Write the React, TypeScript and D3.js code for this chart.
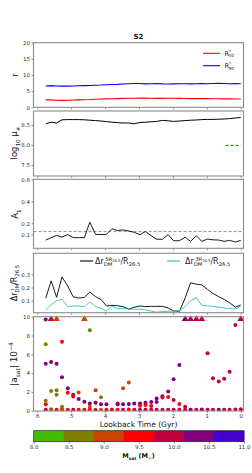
import { useEffect, useRef } from 'react';
import * as d3 from 'd3';

const W = 252;
const H = 473;

// snapshots (lookback time, Gyr)
const lookback = [5.75, 5.59, 5.43, 5.27, 5.10, 4.94, 4.78, 4.61, 4.45, 4.28, 4.12, 3.96, 3.80, 3.63, 3.47, 3.30, 3.14, 2.97,
  2.81, 2.64, 2.48, 2.31, 2.14, 1.98, 1.81, 1.64, 1.48, 1.31, 1.15, 0.98, 0.82, 0.65, 0.49, 0.33, 0.16, 0.00];

const r50 = [2.3, 2.3, 2.2, 2.15, 2.2, 2.25, 2.3, 2.35, 2.4, 2.5, 2.55, 2.6, 2.65, 2.7, 2.75, 2.78, 2.8, 2.85,
  2.85, 2.8, 2.75, 2.75, 2.8, 2.8, 2.75, 2.72, 2.7, 2.7, 2.68, 2.68, 2.66, 2.65, 2.62, 2.6, 2.58, 2.56];
const r90 = [6.6, 6.7, 6.6, 6.55, 6.55, 6.6, 6.65, 6.7, 6.75, 6.85, 6.9, 7.0, 7.05, 7.1, 7.2, 7.3, 7.35, 7.35,
  7.25, 7.3, 7.35, 7.25, 7.2, 7.25, 7.3, 7.3, 7.25, 7.3, 7.35, 7.3, 7.35, 7.4, 7.35, 7.3, 7.35, 7.3];

const logMu = [8.53, 8.57, 8.55, 8.63, 8.635, 8.635, 8.635, 8.63, 8.62, 8.61, 8.6, 8.585, 8.57, 8.56, 8.55, 8.55, 8.53, 8.565,
  8.57, 8.58, 8.59, 8.615, 8.605, 8.59, 8.6, 8.61, 8.62, 8.625, 8.635, 8.64, 8.64, 8.645, 8.65, 8.66, 8.675, 8.69];
const muRefTime = [0.45, 0.0];
const muRefValue = [7.99, 7.99];

const a1 = [0.048, 0.07, 0.09, 0.075, 0.097, 0.07, 0.07, 0.07, 0.21, 0.1, 0.098, 0.1, 0.15, 0.135, 0.14, 0.13, 0.118, 0.097,
  0.125, 0.088, 0.055, 0.055, 0.097, 0.042, 0.042, 0.073, 0.036, 0.088, 0.036, 0.057, 0.05, 0.048, 0.036, 0.045, 0.03, 0.045];
const a1Threshold = 0.125;

const dr5 = [0.118, 0.25, 0.126, 0.28, 0.21, 0.13, 0.12, 0.125, 0.166, 0.13, 0.11, 0.06, 0.065, 0.062, 0.055, 0.037, 0.05, 0.06,
  0.055, 0.057, 0.057, 0.057, 0.045, 0.022, 0.02, 0.12, 0.236, 0.225, 0.22, 0.185, 0.155, 0.13, 0.11, 0.085, 0.05, 0.068];
const dr3 = [0.03, 0.07, 0.1, 0.11, 0.055, 0.06, 0.06, 0.055, 0.09, 0.055, 0.04, 0.022, 0.058, 0.04, 0.04, 0.037, 0.035, 0.035,
  0.03, 0.02, 0.013, 0.018, 0.02, 0.02, 0.025, 0.055, 0.1, 0.123, 0.065, 0.06, 0.057, 0.05, 0.045, 0.04, 0.037, 0.06];

// satellites: snapshot index, |a_sat| (1e-4), log10 mass
const satSnap = [
  0, 0, 0, 0, 0, 0, 0,
  1, 1, 1, 1,
  2, 2, 2, 2,
  3, 3, 3, 3, 3,
  4, 4, 4,
  5, 5, 5,
  6, 6, 6,
  7, 7,
  8, 8, 8, 8,
  9, 9, 9,
  10, 10, 10,
  11, 11,
  12,
  13, 13, 13,
  14, 14, 14,
  15, 15, 15,
  16, 16,
  17, 17, 17,
  18, 18, 18,
  19, 19, 19,
  20, 20, 20,
  21, 21, 21,
  22, 22, 22,
  23, 23, 23,
  24, 24, 24,
  25, 25,
  26, 26,
  27,
  28, 28,
  29, 29,
  30, 30,
  31, 31,
  32, 32,
  33, 33,
  34, 34,
  35,
];
const satAcc = [
  7.06, 5.0, 1.07, 0.68, 9.7, 0.1, 0.05,
  5.18, 2.1, 0.15, 0.08,
  5.0, 2.17, 1.7, 0.1,
  7.34, 3.55, 0.43, 0.12, 0.06,
  2.38, 1.9, 0.1,
  1.7, 1.5, 0.1,
  1.95, 1.25, 0.1,
  0.96, 0.1,
  8.55, 0.78, 0.43, 0.1,
  2.17, 0.85, 0.08,
  1.42, 0.68, 0.1,
  0.68, 0.1,
  0.1,
  0.78, 0.68, 0.1,
  2.4, 0.68, 0.1,
  3.0, 0.72, 0.12,
  0.78, 0.1,
  0.78, 0.53, 0.1,
  0.85, 0.6, 0.1,
  0.92, 0.5, 0.1,
  1.3, 0.92, 0.1,
  1.55, 1.4, 0.1,
  2.05, 1.45, 0.1,
  3.34, 1.14, 0.1,
  4.86, 0.72, 0.1,
  0.43, 0.1,
  0.1, 0.08,
  0.1,
  0.12, 0.08,
  6.1, 0.1,
  3.45, 0.1,
  3.1, 0.1,
  3.4, 0.1,
  4.15, 0.1,
  9.12, 0.12,
  0.15,
];
const satMass = [
  8.6, 10.35, 8.6, 9.5, 10.35, 9.1, 9.9,
  10.35, 8.6, 8.6, 9.1,
  10.35, 8.6, 8.6, 9.5,
  9.5, 10.35, 8.6, 9.5, 9.1,
  10.35, 9.5, 9.5,
  10.35, 9.5, 9.9,
  9.1, 10.35, 9.5,
  10.35, 9.5,
  8.6, 10.35, 9.1, 9.5,
  9.1, 10.35, 9.9,
  8.6, 10.35, 9.1,
  10.35, 9.5,
  9.9,
  9.5, 10.35, 9.5,
  9.1, 10.35, 9.9,
  9.1, 10.35, 9.5,
  10.35, 9.9,
  10.35, 9.5, 9.9,
  10.35, 9.5, 9.9,
  10.35, 9.5, 9.9,
  10.35, 10.35, 9.9,
  10.35, 9.5, 9.9,
  10.35, 9.5, 9.9,
  10.35, 9.9, 9.9,
  10.35, 9.5, 9.9,
  9.9, 9.9,
  9.9, 10.35,
  9.9,
  9.9, 10.35,
  9.9, 9.9,
  9.9, 9.9,
  9.9, 10.35,
  9.9, 9.9,
  9.9, 9.9,
  9.9, 9.9,
  9.9,
];
// satellites above the plotted range (drawn as triangles at the top)
const capSnap = [1, 2, 7, 25, 26, 27, 28, 35];
const capMass = [9.9, 9.1, 9.1, 10.35, 9.9, 9.9, 9.9, 9.9];

const massColors = ['#44bb00', '#7f7f00', '#c84400', '#ff0000', '#c0003c', '#800080', '#4400cc'];
const massTicks = [8.0, 8.5, 9.0, 9.5, 10.0, 10.5, 11.0];
const timeTicks = [6, 5, 4, 3, 2, 1, 0];
const rTicks = [0, 5, 10, 15, 20];
const muTicks = [7.5, 8.0, 8.5];
const a1Ticks = [0.1, 0.2, 0.4, 0.6];
const drTicks = [0.1, 0.2, 0.3];
const accTicks = [0, 2, 4, 6, 8, 10];

const FONT = 'DejaVu Sans';

// text kind: normal, subscript, superscript, subscript inside a superscript
type Kind = 'n' | 'sub' | 'sup' | 'ssub';
type Part = [string, Kind, number?];

function rich(sel: d3.Selection<SVGTextElement, unknown, null, undefined>, parts: Part[], size: number) {
  const offset: Record<Kind, number> = { n: 0, sub: 0.3, sup: -0.42, ssub: -0.25 };
  const scale: Record<Kind, number> = { n: 1, sub: 0.66, sup: 0.66, ssub: 0.46 };
  let cur = 0;
  parts.forEach(([t, kind, dx]) => {
    const target = offset[kind] * size;
    const ts = sel.append('tspan')
      .attr('dy', target - cur)
      .attr('font-size', size * scale[kind])
      .text(t);
    if (dx !== undefined) ts.attr('dx', dx);
    cur = target;
  });
}

export default function App() {
  const svgRef = useRef<SVGSVGElement>(null);

  useEffect(() => {
    if (!svgRef.current) return;
    const svg = d3.select(svgRef.current);
    svg.selectAll('*').remove();

    const xLeft = 33.5;
    const xRight = 243.5;
    const x = d3.scaleLinear().domain([6.11, -0.08]).range([xLeft, xRight]);

    const panels = [
      { top: 42.7, bottom: 107.3, domain: [0, 20], ticks: rTicks, fmt: d3.format('d') },
      { top: 111, bottom: 176, domain: [7.225, 8.85], ticks: muTicks, fmt: d3.format('.1f') },
      { top: 179.3, bottom: 248.3, domain: [-0.027, 0.6], ticks: a1Ticks, fmt: d3.format('.1f') },
      { top: 253.3, bottom: 312.7, domain: [0.009, 0.459], ticks: drTicks, fmt: d3.format('.1f') },
      { top: 316.7, bottom: 411, domain: [-0.03, 10], ticks: accTicks, fmt: d3.format('d') },
    ];

    const ys = panels.map((p, i) => {
      const y = d3.scaleLinear().domain(p.domain).range([p.bottom, p.top]);

      const ay = svg.append('g')
        .attr('transform', `translate(${xLeft},0)`)
        .call(d3.axisLeft(y).tickValues(p.ticks).tickSize(2).tickPadding(1.5).tickFormat(p.fmt as any));
      ay.attr('font-family', FONT).attr('font-size', 5.5);
      ay.select('.domain').remove();
      ay.selectAll('line').attr('stroke', '#444').attr('stroke-width', 0.6);
      ay.selectAll('text').attr('fill', '#333');

      const ax = svg.append('g')
        .attr('transform', `translate(0,${p.bottom})`)
        .call(d3.axisBottom(x).tickValues(timeTicks).tickSize(2).tickPadding(1.5)
          .tickFormat(i === 4 ? (d3.format('d') as any) : () => ''));
      ax.attr('font-family', FONT).attr('font-size', 5.5);
      ax.select('.domain').remove();
      ax.selectAll('line').attr('stroke', '#444').attr('stroke-width', 0.6);
      ax.selectAll('text').attr('fill', '#333');
      return y;
    });

    const clipFor = (i: number) => {
      const p = panels[i];
      const id = `clip${i}`;
      if (svg.select(`#${id}`).empty()) {
        svg.append('clipPath').attr('id', id)
          .append('rect').attr('x', xLeft).attr('y', p.top).attr('width', xRight - xLeft).attr('height', p.bottom - p.top);
      }
      return `url(#${id})`;
    };

    const drawLine = (i: number, vals: number[], times: number[], color: string, width: number, dash?: string) => {
      const y = ys[i];
      const line = d3.line<number>().x((_, k) => x(times[k])).y(v => y(v));
      const path = svg.append('path')
        .attr('d', line(vals))
        .attr('fill', 'none')
        .attr('stroke', color)
        .attr('stroke-width', width)
        .attr('clip-path', clipFor(i));
      if (dash) path.attr('stroke-dasharray', dash);
    };

    // panel 1: radii
    drawLine(0, r50, lookback, '#ff0000', 1.1);
    drawLine(0, r90, lookback, '#0000ff', 1.1);
    const leg1 = [
      { c: '#ff0000', s: '50', y: 53.3 },
      { c: '#0000ff', s: '90', y: 65.7 },
    ];
    leg1.forEach(l => {
      svg.append('line').attr('x1', 203).attr('x2', 220).attr('y1', l.y).attr('y2', l.y)
        .attr('stroke', l.c).attr('stroke-width', 1.1);
      const t = svg.append('text').attr('x', 224.5).attr('y', l.y + 2.2)
        .attr('font-family', FONT).attr('fill', '#222');
      rich(t, [['R', 'n'], ['*', 'sup'], [l.s, 'sub', -2.6]], 6.5);
    });

    // panel 2: surface density
    drawLine(1, logMu, lookback, '#000', 1.0);
    drawLine(1, muRefValue, muRefTime, '#ff0000', 1.0, '3,2');

    // panel 3: A1
    svg.append('line')
      .attr('x1', xLeft).attr('x2', xRight)
      .attr('y1', ys[2](a1Threshold)).attr('y2', ys[2](a1Threshold))
      .attr('stroke', '#888').attr('stroke-width', 0.9).attr('stroke-dasharray', '3,2');
    drawLine(2, a1, lookback, '#000', 0.9);

    // panel 4: DM offsets
    drawLine(3, dr5, lookback, '#000', 0.9);
    drawLine(3, dr3, lookback, '#22c4c4', 0.9);
    const leg4 = [
      { c: '#000', x0: 80, sup: '5R', label: 95 },
      { c: '#22c4c4', x0: 167, sup: '3R', label: 185 },
    ];
    leg4.forEach(l => {
      svg.append('line').attr('x1', l.x0).attr('x2', l.x0 + 13).attr('y1', 261).attr('y2', 261)
        .attr('stroke', l.c).attr('stroke-width', 1.1);
      const t = svg.append('text').attr('x', l.label).attr('y', 264)
        .attr('font-family', FONT).attr('fill', '#222');
      rich(t, [['Δr', 'n'], ['DM', 'sub'], [l.sup, 'sup', -7.2], ['26.5', 'ssub'], ['/R', 'n'], ['26.5', 'sub']], 8);
    });

    // panel 5: satellites
    const color = d3.scaleQuantize<string>().domain([8, 11]).range(massColors);
    const y5 = ys[4];
    const sats = satSnap.map((s, k) => ({ t: lookback[s], a: satAcc[k], m: satMass[k] }));
    svg.append('g').attr('clip-path', clipFor(4))
      .selectAll('circle').data(sats).join('circle')
      .attr('cx', d => x(d.t)).attr('cy', d => y5(d.a)).attr('r', 2.0)
      .attr('fill', d => color(d.m));
    const caps = capSnap.map((s, k) => ({ t: lookback[s], m: capMass[k] }));
    svg.append('g').selectAll('path').data(caps).join('path')
      .attr('d', d3.symbol(d3.symbolTriangle, 20)())
      .attr('transform', d => `translate(${x(d.t)},${y5(9.75)})`)
      .attr('fill', d => color(d.m));

    // frames on top
    panels.forEach(p => {
      svg.append('rect').attr('x', xLeft).attr('y', p.top).attr('width', xRight - xLeft).attr('height', p.bottom - p.top)
        .attr('fill', 'none').attr('stroke', '#8c8c8c').attr('stroke-width', 1.1);
    });

    // y labels
    const yLabel = (cx: number, cy: number, parts: Part[], size: number) => {
      const t = svg.append('text').attr('transform', `translate(${cx},${cy}) rotate(-90)`)
        .attr('text-anchor', 'middle').attr('font-family', FONT).attr('fill', '#111');
      rich(t, parts, size);
    };
    yLabel(18, 75, [['r', 'n']], 8);
    yLabel(17, 143, [['log', 'n'], ['10', 'sub'], [' μ', 'n'], ['∗', 'sub']], 8.5);
    yLabel(18, 214, [['A', 'n'], ['1', 'sub']], 8.5);
    yLabel(17, 283, [['Δr', 'n'], ['DM', 'sub'], ['i', 'sup', -6.5], ['/R', 'n', 4], ['26.5', 'sub']], 8);
    yLabel(17, 364, [['|a', 'n'], ['sat', 'sub'], ['| 10', 'n'], ['−4', 'sup']], 9);

    // title and x label
    svg.append('text').attr('x', 138.5).attr('y', 38.5).attr('text-anchor', 'middle')
      .attr('font-family', FONT).attr('font-weight', 'bold').attr('font-size', 7).attr('fill', '#111').text('S2');
    svg.append('text').attr('x', 138.5).attr('y', 427).attr('text-anchor', 'middle')
      .attr('font-family', FONT).attr('font-size', 7.5).attr('fill', '#111').text('Lookback Time (Gyr)');

    // colorbar
    const cb = { top: 430.7, bottom: 441.7 };
    const cx = d3.scaleLinear().domain([8, 11]).range([33.7, 244]);
    svg.append('g').selectAll('rect').data(massColors).join('rect')
      .attr('x', c => cx(color.invertExtent(c)[0]))
      .attr('width', c => cx(color.invertExtent(c)[1]) - cx(color.invertExtent(c)[0]) + 0.3)
      .attr('y', cb.top).attr('height', cb.bottom - cb.top)
      .attr('fill', c => c);
    svg.append('rect').attr('x', cx(8)).attr('y', cb.top).attr('width', cx(11) - cx(8)).attr('height', cb.bottom - cb.top)
      .attr('fill', 'none').attr('stroke', '#222').attr('stroke-width', 0.7);
    const acb = svg.append('g').attr('transform', `translate(0,${cb.bottom})`)
      .call(d3.axisBottom(cx).tickValues(massTicks).tickSize(2).tickPadding(1.5).tickFormat(d3.format('.1f') as any));
    acb.attr('font-family', FONT).attr('font-size', 5.5);
    acb.select('.domain').remove();
    acb.selectAll('line').attr('stroke', '#444').attr('stroke-width', 0.6);
    acb.selectAll('text').attr('fill', '#333');
    const ml = svg.append('text').attr('x', 138.5).attr('y', 458).attr('text-anchor', 'middle')
      .attr('font-family', FONT).attr('font-weight', 'bold').attr('fill', '#111');
    rich(ml, [['M', 'n'], ['sat', 'sub'], [' (M', 'n'], ['☉', 'sub'], [')', 'n']], 6.5);
  }, []);

  return (
    <div style={{ position: 'absolute', left: 0, top: 0, width: W, height: H, background: '#fff' }}>
      <svg ref={svgRef} width={W} height={H}></svg>
    </div>
  );
}
